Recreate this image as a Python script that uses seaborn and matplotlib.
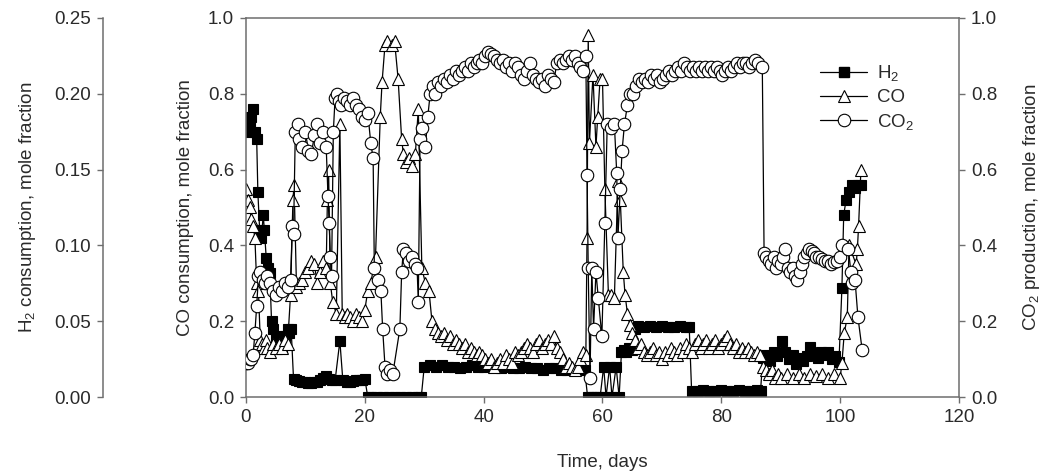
import matplotlib
matplotlib.use("Agg")
import matplotlib.pyplot as plt
import pandas as pd
import seaborn as sns
from matplotlib.lines import Line2D
from matplotlib.ticker import FormatStrFormatter, MultipleLocator

# ---------------- data ----------------
h2_day = [0.0, 0.3, 0.6, 0.9, 1.2, 1.5, 1.8, 2.0, 2.3, 2.6, 2.9, 3.1, 3.4, 3.7, 4.0, 4.3, 4.6, 5.0, 5.3, 5.6,
          6.0, 6.3, 6.6, 7.0, 7.3, 7.6,
          8.0, 8.5, 9.0, 9.5, 10.0, 10.5, 11.0, 11.5, 12.0, 12.5, 13.0, 13.5, 14.0, 14.5, 15.0, 15.8, 16.3,
          17.0, 17.5, 18.0, 18.5, 19.0, 19.5, 20.0, 20.5,
          21, 22, 23, 24, 25, 26, 27, 28, 29, 29.5,
          30, 31, 32, 33, 34, 35, 36, 37, 38, 39, 40, 41, 42, 43, 44, 45, 46, 47, 48, 49, 50, 51, 52, 53,
          54, 55, 56, 57,
          57.5, 58.0, 58.5, 59.0, 59.6, 60.2, 60.6, 61.2, 61.6, 62.3, 62.8, 63.2, 63.6, 64.0, 64.5, 65.0,
          65.5, 66, 67, 68, 69, 70, 71, 72, 73, 74, 74.6,
          75, 76, 77, 78, 79, 80, 81, 82, 83, 84, 85, 86, 86.6,
          87.0, 87.6, 88.2, 88.8, 89.4, 90.2, 90.8, 91.4, 92.0, 92.6, 93.2, 93.8, 94.4, 95.0, 95.6, 96.2,
          96.8, 97.4, 98.0, 98.6, 99.2, 99.8,
          100.3, 100.6, 101.0, 101.5, 102.0, 102.5, 103.0, 103.5]
h2_val = [0.18, 0.175, 0.18, 0.185, 0.19, 0.175, 0.17, 0.135, 0.11, 0.105, 0.12, 0.11, 0.092, 0.085, 0.082,
          0.05, 0.045, 0.038, 0.035, 0.04, 0.032, 0.037, 0.04, 0.045, 0.042, 0.045,
          0.012, 0.011, 0.0105, 0.01, 0.01, 0.0095, 0.0095, 0.01, 0.01, 0.011, 0.0125, 0.014, 0.012, 0.011,
          0.011, 0.037, 0.011, 0.01, 0.01, 0.0105, 0.011, 0.011, 0.011, 0.012, 0.0,
          0.0, 0.0, 0.0, 0.0, 0.0, 0.0, 0.0, 0.0, 0.0, 0.0,
          0.02, 0.021, 0.02, 0.021, 0.02, 0.02, 0.019, 0.02, 0.021, 0.02, 0.02, 0.021, 0.02, 0.019, 0.02,
          0.019, 0.019, 0.02, 0.019, 0.019, 0.018, 0.019, 0.019, 0.018, 0.018, 0.018, 0.018, 0.018,
          0.0, 0.0, 0.0, 0.0, 0.0, 0.02, 0.0, 0.02, 0.0, 0.02, 0.0, 0.03, 0.031, 0.03, 0.032, 0.031,
          0.045, 0.047, 0.046, 0.047, 0.046, 0.047, 0.046, 0.046, 0.047, 0.046, 0.046,
          0.004, 0.004, 0.0045, 0.004, 0.004, 0.0045, 0.004, 0.004, 0.0045, 0.004, 0.004, 0.0045, 0.004,
          0.026, 0.028, 0.024, 0.03, 0.027, 0.037, 0.03, 0.025, 0.028, 0.022, 0.026, 0.024, 0.027, 0.033,
          0.029, 0.026, 0.03, 0.028, 0.03, 0.025, 0.027, 0.023,
          0.072, 0.12, 0.13, 0.135, 0.14, 0.138, 0.14, 0.14]

co_day = [0.0, 0.3, 0.6, 0.9, 1.2, 1.5, 1.8, 2.1, 2.4, 2.7, 3.0, 3.3, 3.6, 4.0, 4.5, 5.0, 5.5, 6.0, 6.5, 7.0,
          7.5, 7.9, 8.1, 8.5, 9.0, 9.5, 10.0, 10.5, 11.0, 11.5, 12.0, 12.5, 13.0, 13.5, 13.7, 13.9, 14.2,
          14.6, 15.2, 15.8, 16.2, 16.6, 17.0, 17.5, 18.0, 18.5, 19.0, 19.5, 20.0, 20.5, 21.0, 21.8, 22.6,
          22.9, 23.4, 23.8, 24.5, 25.0, 25.6, 26.2, 26.5, 27.0, 27.5, 28.0, 28.5, 29.0, 29.6, 30.2, 30.8,
          31.3, 31.8, 32.3, 32.8, 33.3, 33.8, 34.3, 34.8, 35.3, 35.8, 36.3, 36.8, 37.3, 37.8, 38.3, 38.8,
          39.3, 39.8, 40.3, 40.8, 41.3, 41.8, 42.3, 42.8, 43.3, 43.8, 44.3, 44.8, 45.3, 45.8, 46.3, 46.8,
          47.3, 47.8, 48.3, 48.8, 49.3, 49.8, 50.3, 50.8, 51.3, 51.8, 52.3, 52.8, 53.3, 53.8, 54.3, 54.8,
          55.3, 55.8, 56.3, 56.8, 57.2, 57.4, 57.6, 57.8, 58.4, 58.9, 59.2, 59.6, 60.0, 60.4, 61.0, 61.5,
          62.0, 62.6, 63.0, 63.5, 63.8, 64.2, 64.6, 65.0, 65.5, 66.0, 66.5, 67.0, 67.5, 68.0, 68.5, 69.0,
          69.5, 70.0, 70.5, 71.0, 71.5, 72.0, 72.5, 73.0, 73.5, 74.0, 74.5, 75.0, 75.5, 76.0, 76.5, 77.0,
          77.5, 78.0, 78.5, 79.0, 79.5, 80.0, 80.5, 81.0, 81.5, 82.0, 82.5, 83.0, 83.5, 84.0, 84.5, 85.0,
          85.5, 86.0, 86.5, 87.0, 87.5, 88.0, 88.5, 89.0, 89.5, 90.0, 91.0, 92.0, 93.0, 94.0, 95.0, 96.0,
          97.0, 98.0, 99.0, 100.0, 100.3, 100.7, 101.2, 101.5, 102.7, 102.9, 103.1, 103.5]
co_val = [0.55, 0.52, 0.5, 0.47, 0.45, 0.42, 0.3, 0.28, 0.15, 0.14, 0.13, 0.15, 0.13, 0.12, 0.14, 0.13, 0.14,
          0.13, 0.15, 0.14, 0.27, 0.52, 0.56, 0.29, 0.3, 0.31, 0.33, 0.34, 0.36, 0.35, 0.3, 0.33, 0.36, 0.34,
          0.52, 0.6, 0.3, 0.25, 0.22, 0.72, 0.22, 0.21, 0.22, 0.21, 0.2, 0.22, 0.21, 0.2, 0.23, 0.28, 0.3,
          0.37, 0.74, 0.83, 0.93, 0.94, 0.93, 0.94, 0.84, 0.68, 0.64, 0.62, 0.63, 0.61, 0.64, 0.76, 0.34,
          0.3, 0.28, 0.2, 0.18, 0.17, 0.16, 0.17, 0.15, 0.16, 0.14, 0.15, 0.14, 0.13, 0.14, 0.12, 0.13,
          0.12, 0.11, 0.12, 0.11, 0.1, 0.09, 0.1, 0.08, 0.09, 0.1, 0.09, 0.11, 0.1, 0.09, 0.12, 0.11, 0.12,
          0.13, 0.14, 0.13, 0.12, 0.14, 0.15, 0.13, 0.14, 0.15, 0.14, 0.16, 0.13, 0.12, 0.1, 0.08, 0.09,
          0.08, 0.07, 0.08, 0.1, 0.12, 0.11, 0.42, 0.955, 0.67, 0.85, 0.66, 0.74, 0.84, 0.84, 0.55, 0.27,
          0.27, 0.26, 0.57, 0.52, 0.33, 0.27, 0.22, 0.19, 0.17, 0.15, 0.13, 0.14, 0.12, 0.11, 0.12, 0.13,
          0.11, 0.12, 0.1, 0.12, 0.11, 0.13, 0.12, 0.11, 0.13, 0.12, 0.14, 0.13, 0.12, 0.14, 0.15, 0.13,
          0.14, 0.15, 0.13, 0.14, 0.15, 0.13, 0.14, 0.15, 0.16, 0.14, 0.13, 0.14, 0.12, 0.13, 0.12, 0.13,
          0.12, 0.11, 0.12, 0.11, 0.08, 0.07, 0.06, 0.07, 0.05, 0.06, 0.05, 0.06, 0.05, 0.06, 0.05, 0.06,
          0.055, 0.06, 0.05, 0.06, 0.05, 0.09, 0.17, 0.21, 0.4, 0.35, 0.39, 0.45, 0.6]

co2_day = [0.0, 0.3, 0.6, 0.9, 1.2, 1.5, 1.8, 2.1, 2.4, 2.8, 3.2, 3.6, 4.0, 4.5, 5.0, 5.5, 6.0, 6.5, 7.0, 7.5,
           7.8, 8.0, 8.3, 8.7, 9.0, 9.5, 10.0, 10.5, 11.0, 11.5, 12.0, 12.5, 13.0, 13.5, 13.8, 14.0, 14.2,
           14.4, 14.7, 15.0, 15.3, 15.7, 16.0, 16.5, 17.0, 17.5, 18.0, 18.5, 19.0, 19.5, 20.0, 20.5, 21.0,
           21.4, 21.6, 22.2, 22.7, 23.0, 23.4, 23.8, 24.2, 24.7, 25.9, 26.2, 26.5, 27.0, 27.5, 28.0, 28.5,
           28.8, 29.0, 29.3, 29.7, 30.2, 30.6, 31.0, 31.4, 31.8, 32.3, 32.8, 33.3, 33.8, 34.3, 34.8, 35.3,
           35.8, 36.3, 36.8, 37.3, 37.8, 38.3, 38.8, 39.3, 39.8, 40.3, 40.8, 41.3, 41.8, 42.3, 42.8, 43.3,
           43.8, 44.3, 44.8, 45.3, 45.8, 46.3, 46.8, 47.3, 47.8, 48.3, 48.8, 49.3, 49.8, 50.3, 50.8, 51.3,
           51.8, 52.3, 52.8, 53.3, 53.8, 54.3, 54.8, 55.3, 55.8, 56.3, 56.8, 57.2, 57.4, 57.6, 57.9, 58.2,
           58.5, 58.9, 59.3, 59.9, 60.4, 60.8, 61.4, 62.0, 62.4, 62.6, 63.0, 63.3, 63.7, 64.2, 64.7, 65.2,
           65.7, 66.2, 66.7, 67.2, 67.7, 68.2, 68.7, 69.2, 69.7, 70.2, 70.7, 71.2, 71.7, 72.2, 72.7, 73.2,
           73.7, 74.2, 74.7, 75.2, 75.7, 76.2, 76.7, 77.2, 77.7, 78.2, 78.7, 79.2, 79.7, 80.2, 80.7, 81.2,
           81.7, 82.2, 82.7, 83.2, 83.7, 84.2, 84.7, 85.2, 85.7, 86.2, 86.9, 87.2, 87.6, 88.0, 88.4, 88.8,
           89.2, 89.6, 90.0, 90.4, 90.8, 91.2, 91.6, 92.0, 92.4, 92.8, 93.2, 93.6, 94.0, 94.4, 94.8, 95.2,
           95.6, 96.0, 96.5, 97.0, 97.5, 98.0, 98.5, 99.0, 99.5, 100.0, 100.3, 101.4, 101.8, 102.0, 102.5,
           103.0, 103.7]
co2_val = [0.09, 0.09, 0.1, 0.1, 0.11, 0.17, 0.24, 0.32, 0.33, 0.31, 0.3, 0.32, 0.3, 0.28, 0.27, 0.29, 0.28,
           0.3, 0.29, 0.31, 0.45, 0.43, 0.7, 0.72, 0.68, 0.66, 0.7, 0.65, 0.64, 0.69, 0.72, 0.67, 0.7, 0.66,
           0.53, 0.46, 0.37, 0.32, 0.7, 0.79, 0.8, 0.78, 0.77, 0.79, 0.78, 0.77, 0.79, 0.77, 0.76, 0.74,
           0.73, 0.75, 0.67, 0.63, 0.34, 0.31, 0.28, 0.18, 0.08, 0.06, 0.07, 0.06, 0.18, 0.33, 0.39, 0.38,
           0.36, 0.37, 0.35, 0.34, 0.25, 0.68, 0.71, 0.66, 0.74, 0.8, 0.82, 0.8, 0.83, 0.82, 0.84, 0.83,
           0.85, 0.84, 0.86, 0.85, 0.86, 0.87, 0.86, 0.88, 0.87, 0.88, 0.89, 0.88, 0.9, 0.91, 0.905, 0.9,
           0.89, 0.88, 0.89, 0.87, 0.88, 0.86, 0.88, 0.87, 0.85, 0.84, 0.86, 0.88, 0.85, 0.84, 0.83, 0.84,
           0.82, 0.85, 0.84, 0.83, 0.88, 0.89, 0.88, 0.89, 0.9, 0.89, 0.9, 0.88, 0.87, 0.86, 0.9, 0.585,
           0.34, 0.05, 0.34, 0.18, 0.33, 0.26, 0.16, 0.46, 0.72, 0.71, 0.72, 0.59, 0.42, 0.55, 0.65, 0.72,
           0.77, 0.8, 0.8, 0.82, 0.84, 0.83, 0.84, 0.83, 0.85, 0.84, 0.85, 0.83, 0.84, 0.85, 0.86, 0.85,
           0.86, 0.87, 0.86, 0.88, 0.87, 0.86, 0.87, 0.86, 0.87, 0.86, 0.87, 0.86, 0.87, 0.86, 0.87, 0.86,
           0.85, 0.86, 0.87, 0.86, 0.87, 0.88, 0.87, 0.88, 0.88, 0.87, 0.88, 0.89, 0.88, 0.87, 0.38, 0.37,
           0.36, 0.35, 0.37, 0.34, 0.36, 0.35, 0.37, 0.39, 0.34, 0.33, 0.34, 0.32, 0.31, 0.33, 0.35, 0.37,
           0.38, 0.39, 0.385, 0.38, 0.37, 0.37, 0.365, 0.36, 0.36, 0.35, 0.355, 0.36, 0.37, 0.4, 0.39, 0.33,
           0.3, 0.31, 0.21, 0.125]

x_ticks = [0, 20, 40, 60, 80, 100, 120]
series_names = ["H$_2$", "CO", "CO$_2$"]

# ---------------- style ----------------
sns.set_theme(style="ticks")
plt.rcParams["font.family"] = ["Liberation Sans", "DejaVu Sans"]
plt.rcParams["mathtext.fontset"] = "custom"
plt.rcParams["mathtext.rm"] = "Liberation Sans"
plt.rcParams["mathtext.it"] = "Liberation Sans:italic"
plt.rcParams["mathtext.bf"] = "Liberation Sans:bold"
plt.rcParams["mathtext.default"] = "regular"

FS = 13.5
SPINE = "#6e6e6e"
TEXT = "#2a2a2a"
MS_SQ, MS_TRI, MS_CIR = 7.5, 9.0, 9.0

fig = plt.figure(figsize=(10.41, 4.71), dpi=100)
ax = fig.add_axes([0.2363, 0.1571, 0.6849, 0.8047])
ax_h2 = ax.twinx()
ax_co2 = ax.twinx()

ax_h2.set_zorder(1)
ax.set_zorder(2)
ax_co2.set_zorder(3)
for a in (ax, ax_h2, ax_co2):
    a.patch.set_visible(False)

line_kw = dict(color="black", linewidth=0.9, estimator=None, sort=False, legend=False,
               markeredgecolor="black", markeredgewidth=0.8)

df_h2 = pd.DataFrame({"day": h2_day, "value": h2_val})
df_co = pd.DataFrame({"day": co_day, "value": co_val})
df_co2 = pd.DataFrame({"day": co2_day, "value": co2_val})

sns.lineplot(data=df_h2, x="day", y="value", ax=ax_h2, marker="s", markersize=MS_SQ,
             markerfacecolor="black", **line_kw)
sns.lineplot(data=df_co, x="day", y="value", ax=ax, marker="^", markersize=MS_TRI,
             markerfacecolor="white", **line_kw)
sns.lineplot(data=df_co2, x="day", y="value", ax=ax_co2, marker="o", markersize=MS_CIR,
             markerfacecolor="white", **line_kw)

# ---------------- axes ----------------
ax.set_xlim(0, 120)
ax.set_xticks(x_ticks)
ax.set_ylim(0, 1.0)
ax.yaxis.set_major_locator(MultipleLocator(0.2))
ax.yaxis.set_major_formatter(FormatStrFormatter("%.1f"))
ax.set_xlabel("Time, days", fontsize=FS, color=TEXT, labelpad=20)
ax.set_ylabel("CO consumption, mole fraction", fontsize=FS, color=TEXT, labelpad=10)

ax_h2.set_ylim(0, 0.25)
ax_h2.yaxis.set_major_locator(MultipleLocator(0.05))
ax_h2.yaxis.set_major_formatter(FormatStrFormatter("%.2f"))
ax_h2.yaxis.set_label_position("left")
ax_h2.yaxis.set_ticks_position("left")
ax_h2.spines["left"].set_position(("outward", 143 * 0.72))
ax_h2.set_ylabel("H$_2$ consumption, mole fraction", fontsize=FS, color=TEXT, labelpad=12)
for s in ("right", "top", "bottom"):
    ax_h2.spines[s].set_visible(False)
ax_h2.set_xlabel("")

ax_co2.set_ylim(0, 1.0)
ax_co2.yaxis.set_major_locator(MultipleLocator(0.2))
ax_co2.yaxis.set_major_formatter(FormatStrFormatter("%.1f"))
ax_co2.set_ylabel("CO$_2$ production, mole fraction", fontsize=FS, color=TEXT, labelpad=17)
for s in ("left", "top", "bottom"):
    ax_co2.spines[s].set_visible(False)
ax_co2.set_xlabel("")

ax.spines["right"].set_visible(False)
ax.spines["top"].set_visible(True)

for a in (ax, ax_h2, ax_co2):
    for sp in a.spines.values():
        sp.set_color(SPINE)
        sp.set_linewidth(1.1)
    a.tick_params(axis="both", direction="out", length=4.5, width=1.0, color=SPINE,
                  labelsize=FS, labelcolor=TEXT, pad=4)

# ---------------- legend ----------------
handles = [
    Line2D([], [], color="black", linewidth=0.9, marker="s", markersize=MS_SQ,
           markerfacecolor="black", markeredgecolor="black"),
    Line2D([], [], color="black", linewidth=0.9, marker="^", markersize=MS_TRI,
           markerfacecolor="white", markeredgecolor="black", markeredgewidth=0.8),
    Line2D([], [], color="black", linewidth=0.9, marker="o", markersize=MS_CIR,
           markerfacecolor="white", markeredgecolor="black", markeredgewidth=0.8),
]
leg = ax_co2.legend(handles, series_names, loc="upper left", bbox_to_anchor=(0.795, 0.9),
                    frameon=False, fontsize=FS, handlelength=2.5, handletextpad=0.5,
                    labelspacing=0.3, borderaxespad=0.0)
for t in leg.get_texts():
    t.set_color(TEXT)

fig.savefig("out.png", dpi=100, facecolor="white")
